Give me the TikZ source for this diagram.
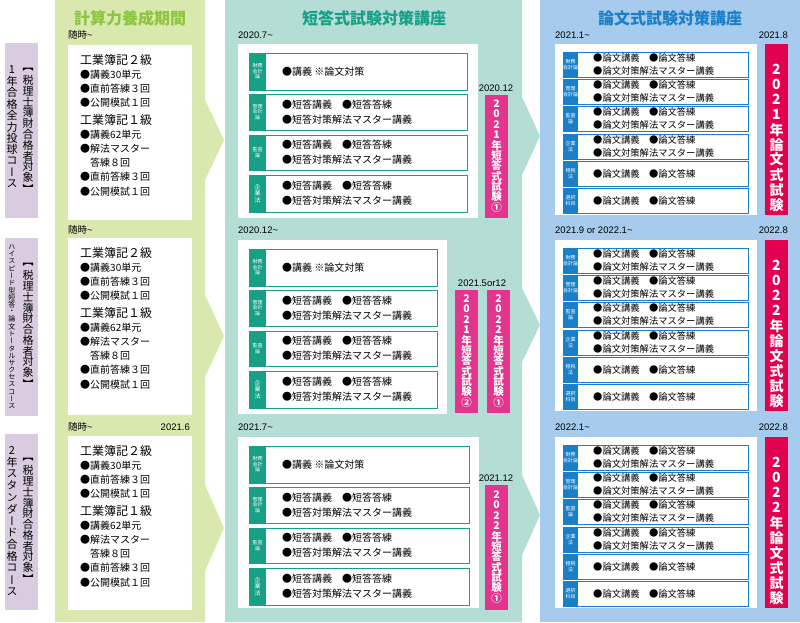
\documentclass[tikz,border=0pt]{standalone}
\usepackage{fontspec}
\setmainfont{Noto Sans CJK JP}
\newfontfamily\jp{Noto Sans CJK JP}
\newfontfamily\vjp[RawFeature={+vert}]{Noto Sans CJK JP}
\newfontfamily\lat{Liberation Sans}
\definecolor{gcol}{HTML}{D9E8AE}
\definecolor{gtit}{HTML}{8CC63F}
\definecolor{tcol}{HTML}{B4DDD6}
\definecolor{ttit}{HTML}{17A085}
\definecolor{bcol}{HTML}{A6CBEC}
\definecolor{btit}{HTML}{1A7FC9}
\definecolor{pcol}{HTML}{D9CCE0}
\definecolor{tpink}{HTML}{E4358E}
\definecolor{bpink}{HTML}{E2004F}
\newlength\vtstep
\def\vt#1#2{\setlength\vtstep{#1}\vbox{\offinterlineskip\vtA#2\relax}}
\def\vtA#1{\ifx\relax#1\else\hbox to 1.2em{\hss\vbox to \vtstep{\vss\hbox{#1}\vss}\hss}\expandafter\vtA\fi}
\tikzset{
 wbox/.style={fill=white,draw=none},
 tcourse/.style={draw=ttit,line width=1pt,fill=white},
 bcourse/.style={draw=btit,line width=1pt,fill=white},
 datel/.style={font=\lat\fontsize{9.5}{10}\selectfont,inner sep=0pt},
 coltitle/.style={font=\bfseries\fontsize{16}{16}\selectfont,inner sep=0pt},
 gtext/.style={font=\fontsize{10}{14.2}\selectfont,inner sep=0pt,anchor=north west,align=left},
 ttext/.style={font=\fontsize{10}{15}\selectfont,inner sep=0pt,anchor=west,align=left},
 btext/.style={font=\fontsize{9.3}{12.5}\selectfont,inner sep=0pt,anchor=west,align=left},
 tab/.style={font=\fontsize{5}{5.5}\selectfont,text=white,inner sep=0pt,align=center},
 vlabel/.style={inner sep=0pt,anchor=north},
 pinkv/.style={vlabel,text=white,font=\bfseries\fontsize{10.5}{10.5}\selectfont},
}
\newcommand\greenbox[3]{% top, bottom, name
 \fill[wbox] (68,#1) rectangle (192,#2);
 \node[gtext] (#3) at (80,#1+9) {{\fontsize{12}{14}\selectfont 工業簿記２級}\\●講義30単元\\●直前答練３回\\●公開模試１回\\[3pt]{\fontsize{12}{14}\selectfont 工業簿記１級}\\●講義62単元\\●解法マスター\\\hspace{1em}答練８回\\●直前答練３回\\●公開模試１回};}
\newcommand\tealrow[3]{% offset, right x, name
 \foreach \a/\b/\k in {53/90/1,94/130/2,135/170/3,175/212/4}{
  \draw[tcourse] (249,#1+\a) rectangle (#2,#1+\b);
  \fill[ttit] (249,#1+\a) rectangle (266,#1+\b);
 }
 \node[tab] (#3t1) at (257.5,#1+71.5) {財務\\会計\\論};
 \node[tab] (#3t2) at (257.5,#1+112) {管理\\会計\\論};
 \node[tab] (#3t3) at (257.5,#1+152.5) {監査\\論};
 \node[tab,font=\fontsize{6}{6.5}\selectfont] (#3t4) at (257.5,#1+193.5) {企\\業\\法};
 \node[ttext] (#3a) at (282,#1+71.5) {●講義 ※論文対策};
 \foreach \c/\k in {112/b,152.5/c,193.5/d}{
  \node[ttext] (#3\k) at (282,#1+\c) {●短答講義　●短答答練\\●短答対策解法マスター講義};}
}
\newcommand\bluerow[2]{% top, name
 \foreach \a/\b in {8/33,35/60,62/87,90/115,117/142,144/169}{
  \draw[bcourse] (563,#1+\a) rectangle (748,#1+\b);
  \fill[btit] (563,#1+\a) rectangle (578,#1+\b);
 }
 \node[tab] (#2t1) at (570.5,#1+20.5) {財務\\会計論};
 \node[tab] (#2t2) at (570.5,#1+47.5) {管理\\会計論};
 \node[tab] (#2t3) at (570.5,#1+74.5) {監査\\論};
 \node[tab] (#2t4) at (570.5,#1+102.5) {企業\\法};
 \node[tab] (#2t5) at (570.5,#1+129.5) {租税\\法};
 \node[tab] (#2t6) at (570.5,#1+156.5) {選択\\科目};
 \foreach \c/\k in {20.5/a,47.5/b,74.5/c,102.5/d}{
  \node[btext] (#2\k) at (593,#1+\c) {●論文講義　●論文答練\\●論文対策解法マスター講義};}
 \foreach \c/\k in {129.5/e,156.5/f}{
  \node[btext] (#2\k) at (593,#1+\c) {●論文講義　●論文答練};}
}
\begin{document}
\begin{tikzpicture}[x=1pt,y=-1pt]
\useasboundingbox (0,0) rectangle (800,622);
\fill[white] (0,0) rectangle (800,622);
% columns
\fill[gcol] (55,0) -- (205,0) -- (205,100) -- (224,140) -- (205,180) -- (205,295) -- (224,336) -- (205,377) -- (205,485) -- (224,528) -- (205,571) -- (205,622) -- (55,622) -- cycle;
\fill[bcol] (540,0) rectangle (800,622);
\fill[tcol] (225,0) -- (522,0) -- (522,97) -- (540,136) -- (522,175) -- (522,288) -- (540,325) -- (522,362) -- (522,475) -- (540,515) -- (522,555) -- (522,622) -- (225,622) -- cycle;
\node[coltitle,text=gtit] (tg) at (130,18) {計算力養成期間};
\node[coltitle,text=ttit] (tt) at (374,18) {短答式試験対策講座};
\node[coltitle,text=btit] (tb) at (670,18) {論文式試験対策講座};
% purple labels
\foreach \t/\b/\k in {43/218/1,238/416/2,434/610/3}{
 \fill[pcol] (5,\t) rectangle (38,\b);}
\node[vlabel,font=\vjp\fontsize{11}{11}\selectfont] (p1r) at (28,64) {\vt{10.8pt}{【税理士簿財合格者対象】}};
\node[vlabel,font=\vjp\fontsize{11}{11}\selectfont] (p1l) at (12,64) {\vt{11.4pt}{1年合格全力投球コース}};
\node[vlabel,font=\vjp\fontsize{11}{11}\selectfont] (p2r) at (28,259) {\vt{10.8pt}{【税理士簿財合格者対象】}};
\node[vlabel,font=\vjp\fontsize{7}{7}\selectfont] (p2l) at (12,243) {\vt{7.25pt}{ハイスピード型短答・論文トータルサクセスコース}};
\node[vlabel,font=\vjp\fontsize{11}{11}\selectfont] (p3r) at (28,454) {\vt{10.8pt}{【税理士簿財合格者対象】}};
\node[vlabel,font=\vjp\fontsize{11}{11}\selectfont] (p3l) at (12,444) {\vt{11.8pt}{2年スタンダード合格コース}};
% green boxes
\node[datel,anchor=west] (g1d) at (68,35) {{\jp 随時}\char`~};
\node[datel,anchor=west] (g2d) at (68,230) {{\jp 随時}\char`~};
\node[datel,anchor=west] (g3d) at (68,427) {{\jp 随時}\char`~};
\node[datel,anchor=east] (g3e) at (190,427) {2021.6};
\greenbox{45}{220}{g1}
\greenbox{238}{415}{g2}
\greenbox{436}{610}{g3}
% teal
\node[datel,anchor=west] (t1d) at (238,35) {2020.7\char`~};
\node[datel,anchor=west] (t2d) at (238,230) {2020.12\char`~};
\node[datel,anchor=west] (t3d) at (238,427) {2021.7\char`~};
\fill[wbox] (238,44) rectangle (478,218);
\fill[wbox] (238,240) rectangle (447,414);
\fill[wbox] (238,437) rectangle (479,608);
\tealrow{0}{467}{r1}
\tealrow{196}{437}{r2}
\tealrow{393}{469}{r3}
\fill[tpink] (485,95) rectangle (508,218);
\node[datel] (t1e) at (496,88) {2020.12};
\node[pinkv] (t1v) at (496.5,98) {\vt{10.4pt}{2021年短答式試験①}};
\fill[tpink] (455,290) rectangle (478,413);
\fill[tpink] (487,290) rectangle (510,413);
\node[datel] (t2e) at (482,283) {2021.5or12};
\node[pinkv] (t2v) at (466.5,293) {\vt{10.4pt}{2021年短答式試験②}};
\node[pinkv] (t2w) at (498.5,293) {\vt{10.4pt}{2022年短答式試験①}};
\fill[tpink] (485,485) rectangle (508,610);
\node[datel] (t3e) at (496,478) {2021.12};
\node[pinkv] (t3v) at (496.5,489) {\vt{10.4pt}{2022年短答式試験①}};
% blue
\node[datel,anchor=west] (b1d) at (555,35) {2021.1\char`~};
\node[datel,anchor=east] (b1e) at (788,35) {2021.8};
\node[datel,anchor=west] (b2d) at (555,230) {2021.9 or 2022.1\char`~};
\node[datel,anchor=east] (b2e) at (788,230) {2022.8};
\node[datel,anchor=west] (b3d) at (555,427) {2022.1\char`~};
\node[datel,anchor=east] (b3e) at (788,427) {2022.8};
\foreach \o in {44,240,437}{
 \fill[wbox] (555,\o) rectangle (757,\o+171);
 \fill[bpink] (765,\o) rectangle (788,\o+171);}
\bluerow{44}{s1}
\bluerow{240}{s2}
\bluerow{437}{s3}
\node[vlabel,text=white,font=\bfseries\fontsize{14}{14}\selectfont] (b1v) at (776.5,62) {\vt{15pt}{2021年論文式試験}};
\node[vlabel,text=white,font=\bfseries\fontsize{14}{14}\selectfont] (b2v) at (776.5,258) {\vt{15pt}{2022年論文式試験}};
\node[vlabel,text=white,font=\bfseries\fontsize{14}{14}\selectfont] (b3v) at (776.5,455) {\vt{15pt}{2022年論文式試験}};
\end{tikzpicture}
\end{document}
